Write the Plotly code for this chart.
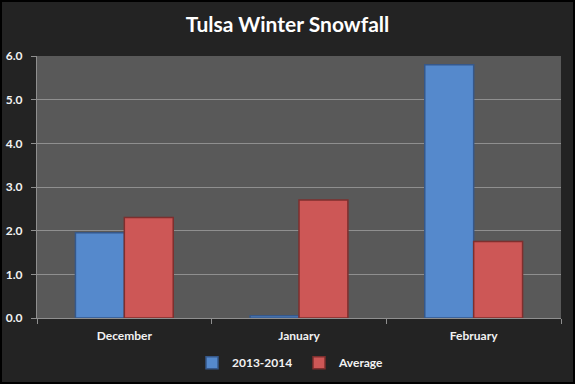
import plotly.graph_objects as go

months = ["December", "January", "February"]
season_2013_2014 = [1.95, 0.05, 5.8]
average = [2.3, 2.7, 1.75]
y_ticks = [0, 1, 2, 3, 4, 5, 6]
y_tick_labels = ["0.0", "1.0", "2.0", "3.0", "4.0", "5.0", "6.0"]

FONT = "Lato, 'Open Sans', sans-serif"

fig = go.Figure()
fig.add_trace(go.Bar(
    name="2013-2014", x=months, y=season_2013_2014,
    marker=dict(color="#5589CC", line=dict(color="#36588A", width=1.5)),
))
fig.add_trace(go.Bar(
    name="Average", x=months, y=average,
    marker=dict(color="#CD5756", line=dict(color="#7E2F2E", width=1.5)),
))

fig.update_layout(
    width=575, height=384,
    margin=dict(l=37, r=14, t=56, b=66, autoexpand=False),
    paper_bgcolor="#232323",
    plot_bgcolor="#595959",
    barmode="group",
    bargap=0.44,
    bargroupgap=0.0,
    title=dict(text="Tulsa Winter Snowfall", x=0.5, xanchor="center",
               y=1 - 25/384, yanchor="middle",
               font=dict(family=FONT, size=21, color="#FFFFFF", weight="bold")),
    font=dict(family=FONT, color="#F2F2F2"),
    legend=dict(orientation="h", x=0.5, xanchor="center", y=-0.115, yanchor="top",
                font=dict(family=FONT, size=12, color="#F2F2F2", weight="bold"),
                bgcolor="rgba(0,0,0,0)", itemwidth=30, traceorder="normal",
                entrywidth=62, entrywidthmode="pixels"),
    showlegend=True,
)
fig.update_yaxes(
    range=[0, 6], tickvals=y_ticks, ticktext=y_tick_labels,
    showgrid=True, gridcolor="#8F8F8F", gridwidth=1,
    showline=True, linecolor="#8F8F8F", linewidth=1,
    ticks="outside", ticklen=5, tickcolor="#8F8F8F", ticklabelstandoff=6,
    tickfont=dict(family=FONT, size=12, color="#F2F2F2", weight="bold"),
    zeroline=False, automargin=False,
)
fig.update_xaxes(
    tickvals=months, ticktext=months,
    showline=True, linecolor="#8F8F8F", linewidth=1,
    ticks="outside", ticklen=5, tickcolor="#8F8F8F", tickson="boundaries",
    ticklabelstandoff=7,
    tickfont=dict(family=FONT, size=12, color="#F2F2F2", weight="bold"),
    showgrid=False, automargin=False,
)
fig.add_shape(type="rect", xref="paper", yref="paper",
              x0=-37/524, x1=1 + 14/524, y0=-66/262, y1=1 + 56/262,
              line=dict(color="#000000", width=4), fillcolor="rgba(0,0,0,0)")

fig.write_html("out.html", config={"displayModeBar": False},
               post_script="document.body.style.margin='0';")
